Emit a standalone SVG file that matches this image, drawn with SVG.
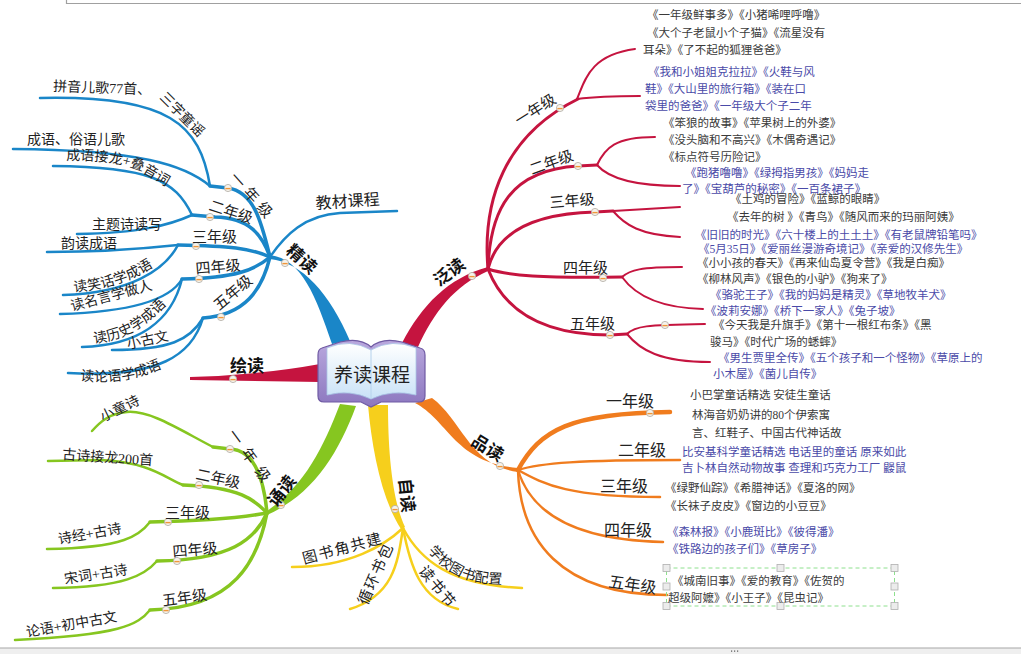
<svg xmlns="http://www.w3.org/2000/svg" width="1021" height="654" viewBox="0 0 1021 654">
<style>
.t{font-family:"Liberation Serif","Noto Sans CJK SC",serif;fill:#222}
.s14{font-size:14px}.s15{font-size:15px}.s16{font-size:16px}
.b{font-weight:bold;font-size:17px;fill:#111}
.g{font-size:11.5px;fill:#3a3a3a}.u{font-size:11.5px;fill:#4a4aa8}
.cb{stroke:#1a86c8;fill:none;stroke-linecap:round}
.cr{stroke:#c5143f;fill:none;stroke-linecap:round}
.cg{stroke:#86c620;fill:none;stroke-linecap:round}
.cy{stroke:#f6cf1c;fill:none;stroke-linecap:round}
.co{stroke:#f07c1e;fill:none;stroke-linecap:round}
.w35{stroke-width:3.5}.w3{stroke-width:3}.w25{stroke-width:2.5}.w2{stroke-width:2}
.hd{fill:#ececec;stroke:#b0b0b0;stroke-width:0.8}
</style>
<defs>
<g id="mk"><circle r="3.6" fill="#f6f3ec" stroke="#b0aba2" stroke-width="0.8"/><line x1="-2.6" y1="0.6" x2="2.6" y2="0.6" stroke="#f0963a" stroke-width="1.4"/></g>
<linearGradient id="pg" x1="0" y1="0" x2="0" y2="1"><stop offset="0" stop-color="#ffffff"/><stop offset="1" stop-color="#c9e2f7"/></linearGradient>
<linearGradient id="cv" x1="0" y1="0" x2="0" y2="1"><stop offset="0" stop-color="#b9a8de"/><stop offset="1" stop-color="#8c77bf"/></linearGradient>
<path id="tp2" d="M 66,160 C 100,160 120,163 137,169 L 184,197"/>
<path id="tp3" d="M 74,292 C 105,289 135,282 162,260"/>
<path id="tp5" d="M 94,343 C 120,341 145,330 174,296"/>
<path id="tp6" d="M 80,380 C 110,384 140,380 170,364"/>
<path id="tp7" d="M 428,551 C 440,566 458,580 485,583 L 530,586"/>
</defs>
<rect width="1021" height="654" fill="#fff"/>
<path d="M66.5,0 V3.5 H1021" stroke="#a0a0a0" stroke-width="1.2" fill="none"/>
<rect x="0" y="648" width="1021" height="6" fill="#efefef"/>
<line x1="0" y1="648" x2="1021" y2="648" stroke="#a8a8a8" stroke-width="1.2"/>
<rect x="731" y="650.5" width="1.2" height="1.2" fill="#555"/><rect x="734" y="650.5" width="1.2" height="1.2" fill="#555"/><rect x="737" y="650.5" width="1.2" height="1.2" fill="#555"/>

<g id="connectors">
<!-- blue 精读 -->
<path d="M 270,255 C 302,259 316,297 332,344 L 350,341 C 330,294 302,262 270,259 Z" fill="#1a86c8"/>
<path class="cb w35" d="M 270,257 C 262,225 255,192 228,188 L 210,186"/>
<path class="cb w35" d="M 270,257 C 262,235 250,218 215,217 L 192,215"/>
<path class="cb w35" d="M 270,257 C 250,248 230,246 178,245"/>
<path class="cb w35" d="M 270,257 C 255,270 235,278 182,279"/>
<path class="cb w35" d="M 270,257 C 262,290 245,315 203,318"/>
<path class="cb w25" d="M 270,257 C 285,235 305,215 340,213 L 397,211"/>
<path class="cb w25" d="M 210,186 C 200,125 170,95 40,98"/>
<path class="cb w25" d="M 210,186 C 185,165 140,150 13,149"/>
<path class="cb w25" d="M 192,215 C 175,180 150,167 53,166"/>
<path class="cb w25" d="M 192,215 C 170,225 140,233 77,234"/>
<path class="cb w25" d="M 178,245 C 150,248 100,252 47,252"/>
<path class="cb w25" d="M 178,245 C 165,270 130,293 63,295"/>
<path class="cb w25" d="M 182,279 C 170,300 130,312 60,314"/>
<path class="cb w25" d="M 182,279 C 172,320 140,345 82,347"/>
<path class="cb w25" d="M 203,318 C 190,340 170,350 112,350"/>
<path class="cb w25" d="M 203,318 C 192,355 160,378 68,373"/>
<!-- red 绘读 -->
<path d="M 190,377 Q 260,375 320,364 L 320,382 Q 260,381 190,380 Z" fill="#c5143f"/>
<!-- crimson 泛读 -->
<path d="M 402,343 C 422,305 448,278 488,267 L 488,271 C 454,286 434,312 418,347 Z" fill="#c5143f"/>
<path class="cr w3" d="M 488,269 C 482,200 505,135 578,99"/>
<path class="cr w3" d="M 488,269 C 490,210 510,170 578,166 L 597,165"/>
<path class="cr w3" d="M 488,269 C 495,240 520,214 595,212 L 613,211"/>
<path class="cr w3" d="M 488,269 C 510,276 540,278 622,277"/>
<path class="cr w3" d="M 488,269 C 500,300 530,335 610,335 L 627,334"/>
<path class="cr w2" d="M 577,99 C 585,80 590,55 635,49"/>
<path class="cr w2" d="M 577,99 C 600,96 620,96 640,96"/>
<path class="cr w2" d="M 597,165 C 605,148 615,137 655,137"/>
<path class="cr w2" d="M 597,165 C 610,180 640,186 680,186"/>
<path class="cr w2" d="M 613,211 L 680,207"/>
<path class="cr w2" d="M 613,211 C 625,225 640,235 680,237"/>
<path class="cr w2" d="M 622,277 C 630,270 640,267 682,267"/>
<path class="cr w2" d="M 622,277 C 635,295 660,308 703,309"/>
<path class="cr w2" d="M 627,334 C 635,326 645,325 705,324"/>
<path class="cr w2" d="M 627,334 C 640,350 660,362 710,362"/>
<!-- green 诵读 -->
<path d="M 340,404 C 323,448 305,485 267,511 L 267,515 C 312,495 338,455 356,406 Z" fill="#86c620"/>
<path class="cg w35" d="M 267,513 C 264,480 255,450 230,449 L 213,447"/>
<path class="cg w35" d="M 267,513 C 255,500 240,487 183,485"/>
<path class="cg w35" d="M 267,513 C 240,518 200,521 150,522"/>
<path class="cg w35" d="M 267,513 C 255,540 230,560 157,561"/>
<path class="cg w35" d="M 267,513 C 258,560 235,608 150,610"/>
<path class="cg w25" d="M 213,447 C 180,430 150,410 127,412 C 110,413 100,422 92,431"/>
<path class="cg w25" d="M 183,485 C 165,478 150,462 100,460 L 48,461"/>
<path class="cg w25" d="M 150,522 C 140,535 125,548 47,549"/>
<path class="cg w25" d="M 157,561 C 145,575 125,587 53,588"/>
<path class="cg w25" d="M 150,610 C 138,625 120,635 15,640"/>
<!-- yellow 自读 -->
<path d="M 368,405 C 372,450 382,500 401,529 L 405,527 C 392,500 388,450 388,405 Z" fill="#f6cf1c"/>
<path class="cy w25" d="M 403,528 C 385,545 350,567 292,567"/>
<path class="cy w25" d="M 403,528 C 398,560 395,595 350,609"/>
<path class="cy w25" d="M 403,528 C 410,565 420,600 458,609"/>
<path class="cy w25" d="M 403,528 C 420,560 450,585 522,588"/>
<!-- orange 品读 -->
<path d="M 415,403 C 448,420 455,463 518,468 L 518,472 C 470,466 462,420 432,398 Z" fill="#f07c1e"/>
<path class="co" stroke-width="4.5" d="M 518,470 C 540,430 570,413 670,412"/>
<path class="co w25" d="M 518,470 C 540,463 580,460 680,460"/>
<path class="co w25" d="M 518,470 C 545,485 570,497 660,497"/>
<path class="co w25" d="M 518,470 C 530,510 570,540 663,542"/>
<path class="co w25" d="M 518,470 C 520,540 560,595 667,595"/>
<!-- markers -->
<use href="#mk" x="285" y="263"/><use href="#mk" x="228" y="188"/><use href="#mk" x="210" y="217"/><use href="#mk" x="196" y="246"/><use href="#mk" x="199" y="279"/><use href="#mk" x="221" y="317"/>
<use href="#mk" x="233" y="379"/>
<use href="#mk" x="281" y="505"/><use href="#mk" x="230" y="449"/><use href="#mk" x="199" y="485"/><use href="#mk" x="168" y="522"/><use href="#mk" x="177" y="561"/><use href="#mk" x="166" y="610"/>
<use href="#mk" x="395" y="509"/>
<use href="#mk" x="500" y="466"/><use href="#mk" x="650" y="413"/>
<use href="#mk" x="472" y="276"/><use href="#mk" x="560" y="108"/><use href="#mk" x="578" y="166"/><use href="#mk" x="595" y="212"/><use href="#mk" x="603" y="278"/><use href="#mk" x="610" y="335"/><use href="#mk" x="665" y="325"/>
</g>

<g id="center">
<path d="M 322,348 L 340,342 Q 360,337 371,347 Q 382,337 402,342 L 420,348 Q 425,349 425,355 L 425,396 Q 425,402 419,402 L 381,402 L 371,407 L 361,402 L 324,402 Q 318,402 318,396 L 318,355 Q 318,349 322,348 Z" fill="url(#cv)" stroke="#6f5aa3" stroke-width="1.2"/>
<path d="M 327,348 Q 350,338 371,350 Q 392,338 416,348 L 416,395 Q 392,389 371,399 Q 350,389 327,395 Z" fill="url(#pg)" stroke="#a9c7e6" stroke-width="0.8"/>
<line x1="371" y1="350" x2="371" y2="399" stroke="#b6d2ec" stroke-width="1"/>
<text class="t" x="372" y="382" font-size="19" text-anchor="middle" fill="#111">养读课程</text>
</g>

<g id="n-jingdu"><text class="t b" transform="translate(285,252) rotate(42)">精读</text></g>
<g id="n-j1"><text class="t s15" letter-spacing="5" transform="translate(229,178) rotate(48)">一年级</text></g>
<g id="n-j1a"><text class="t s14" transform="translate(53,91) rotate(2)">拼音儿歌77首、</text>
<text class="t s14" transform="translate(159,98) rotate(45)">三字童谣</text></g>
<g id="n-j1b"><text class="t s14" x="27" y="144">成语、俗语儿歌</text></g>
<g id="n-j2"><text class="t s15" transform="translate(208,210) rotate(18)">二年级</text></g>
<g id="n-j2a"><text class="t s14"><textPath href="#tp2">成语接龙+叠音词</textPath></text></g>
<g id="n-j2b"><text class="t s14" x="92" y="229">主题诗读写</text></g>
<g id="n-j3"><text class="t s15" x="192" y="242">三年级</text></g>
<g id="n-j3a"><text class="t s14" x="61" y="248">韵读成语</text></g>
<g id="n-j3b"><text class="t s14"><textPath href="#tp3">读笑话学成语</textPath></text></g>
<g id="n-j4"><text class="t s15" transform="translate(196,274) rotate(-5)">四年级</text></g>
<g id="n-j4a"><text class="t s14" transform="translate(72,311) rotate(-15)">读名言学做人</text></g>
<g id="n-j4b"><text class="t s14"><textPath href="#tp5">读历史学成语</textPath></text></g>
<g id="n-j5"><text class="t s15" transform="translate(219,311) rotate(-40)">五年级</text></g>
<g id="n-j5a"><text class="t s14" transform="translate(128,349) rotate(-12)">小古文</text></g>
<g id="n-j5b"><text class="t s14"><textPath href="#tp6">读论语学成语</textPath></text></g>
<g id="n-jc"><text class="t s16" transform="translate(316,209) rotate(-4)">教材课程</text></g>

<g id="n-huidu"><text class="t b" x="230" y="372">绘读</text></g>

<g id="n-songdu"><text class="t b" transform="translate(276,508) rotate(-52)">诵读</text></g>
<g id="n-s1"><text class="t s15" letter-spacing="8" transform="translate(227,434) rotate(54)">一年级</text></g>
<g id="n-s1a"><text class="t s14" transform="translate(103,422) rotate(-26)">小童诗</text></g>
<g id="n-s2"><text class="t s15" transform="translate(195,479) rotate(12)">二年级</text></g>
<g id="n-s2a"><text class="t s14" transform="translate(62,459) rotate(4)">古诗接龙200首</text></g>
<g id="n-s3"><text class="t s15" x="165" y="518">三年级</text></g>
<g id="n-s3a"><text class="t s14" transform="translate(59,544) rotate(-10)">诗经+古诗</text></g>
<g id="n-s4"><text class="t s15" transform="translate(173,557) rotate(-5)">四年级</text></g>
<g id="n-s4a"><text class="t s14" transform="translate(65,584) rotate(-9)">宋词+古诗</text></g>
<g id="n-s5"><text class="t s15" transform="translate(163,606) rotate(-8)">五年级</text></g>
<g id="n-s5a"><text class="t s14" transform="translate(27,637) rotate(-10)">论语+初中古文</text></g>

<g id="n-zidu"><text class="t b" transform="translate(399,479) rotate(84)">自读</text></g>
<g id="n-z1"><text class="t s15" letter-spacing="1.5" transform="translate(304,564) rotate(-15)">图书角共建</text></g>
<g id="n-z2"><text class="t s15" letter-spacing="1.5" transform="translate(367,606) rotate(-66)">循环书包</text></g>
<g id="n-z3"><text class="t s15" letter-spacing="1.5" transform="translate(418,571) rotate(51)">读书节</text></g>
<g id="n-z4"><text class="t s14"><textPath href="#tp7">学校图书配置</textPath></text></g>

<g id="n-pindu"><text class="t b" transform="translate(470,444) rotate(32)">品读</text></g>
<g id="n-p1"><text class="t s16" x="606" y="407">一年级</text>
<text class="t g" x="690" y="399">小巴掌童话精选  安徒生童话</text>
<text class="t g" x="692" y="419">林海音奶奶讲的80个伊索寓</text>
<text class="t g" x="692" y="437">言、红鞋子、中国古代神话故</text></g>
<g id="n-p2"><text class="t s16" x="618" y="456">二年级</text>
<text class="t u" x="682" y="456">比安基科学童话精选  电话里的童话  原来如此</text>
<text class="t u" x="682" y="472">吉卜林自然动物故事  查理和巧克力工厂  鼹鼠</text></g>
<g id="n-p3"><text class="t s16" x="600" y="492">三年级</text>
<text class="t g" x="665" y="492">《绿野仙踪》《希腊神话》《夏洛的网》</text>
<text class="t g" x="665" y="510">《长袜子皮皮》《窗边的小豆豆》</text></g>
<g id="n-p4"><text class="t s16" x="604" y="536">四年级</text>
<text class="t u" x="667" y="536">《森林报》《小鹿斑比》《彼得潘》</text>
<text class="t u" x="667" y="553">《铁路边的孩子们》《草房子》</text></g>
<g id="n-p5"><text class="t s16" transform="translate(608,587) rotate(8)">五年级</text>
<rect x="666.5" y="568" width="228" height="38" fill="none" stroke="#8ee08e" stroke-width="1" stroke-dasharray="4,3"/>
<rect class="hd" x="663" y="564.5" width="7" height="7"/><rect class="hd" x="777" y="564.5" width="7" height="7"/><rect class="hd" x="891" y="564.5" width="7" height="7"/>
<rect class="hd" x="663" y="583" width="7" height="7"/><rect class="hd" x="891" y="583" width="7" height="7"/>
<rect class="hd" x="663" y="602.5" width="7" height="7"/><rect class="hd" x="777" y="602.5" width="7" height="7"/><rect class="hd" x="891" y="602.5" width="7" height="7"/>
<text class="t g" x="672" y="585">《城南旧事》《爱的教育》《佐贺的</text>
<text class="t g" x="668" y="602">超级阿嬷》《小王子》《昆虫记》</text></g>

<g id="n-fandu"><text class="t b" transform="translate(439,287) rotate(-36)">泛读</text></g>
<g id="n-f1"><text class="t s15" transform="translate(519,126) rotate(-32)">一年级</text>
<text class="t g" x="647" y="19">《一年级鲜事多》《小猪唏哩呼噜》</text>
<text class="t g" x="647" y="37">《大个子老鼠小个子猫》《流星没有</text>
<text class="t g" x="643" y="54">耳朵》《了不起的狐狸爸爸》</text>
<text class="t u" x="648" y="76">《我和小姐姐克拉拉》《火鞋与风</text>
<text class="t u" x="645" y="93">鞋》《大山里的旅行箱》《装在口</text>
<text class="t u" x="645" y="110">袋里的爸爸》《一年级大个子二年</text></g>
<g id="n-f2"><text class="t s15" transform="translate(532,175) rotate(-20)">二年级</text>
<text class="t g" x="663" y="127">《笨狼的故事》《苹果树上的外婆》</text>
<text class="t g" x="663" y="144">《没头脑和不高兴》《木偶奇遇记》</text>
<text class="t g" x="663" y="161">《标点符号历险记》</text>
<text class="t u" x="685" y="177">《跑猪噜噜》《绿拇指男孩》《妈妈走</text>
<text class="t u" x="682" y="193">了》《宝葫芦的秘密》《一百条裙子》</text></g>
<g id="n-f3"><text class="t s15" transform="translate(550,208) rotate(-5)">三年级</text>
<text class="t g" x="730" y="203">《土鸡的冒险》《蓝鲸的眼睛》</text>
<text class="t g" x="727" y="221">《去年的树 》《青鸟》《随风而来的玛丽阿姨》</text>
<text class="t u" x="695" y="239">《旧旧的时光》《六十楼上的土土土》《有老鼠牌铅笔吗》</text>
<text class="t u" x="698" y="253">《5月35日》《爱丽丝漫游奇境记》《亲爱的汉修先生》</text></g>
<g id="n-f4"><text class="t s15" x="563" y="273">四年级</text>
<text class="t g" x="697" y="267">《小小孩的春天》《再来仙岛夏令营》《我是白痴》</text>
<text class="t g" x="697" y="283">《柳林风声》《银色的小驴》《狗来了》</text>
<text class="t u" x="710" y="299">《骆驼王子》《我的妈妈是精灵》《草地牧羊犬》</text>
<text class="t u" x="705" y="315">《波莉安娜》《桥下一家人》《兔子坡》</text></g>
<g id="n-f5"><text class="t s15" x="570" y="329">五年级</text>
<text class="t g" x="713" y="329">《今天我是升旗手》《第十一根红布条》《黑</text>
<text class="t g" x="710" y="346">骏马》《时代广场的蟋蟀》</text>
<text class="t u" x="718" y="362">《男生贾里全传》《五个孩子和一个怪物》《草原上的</text>
<text class="t u" x="713" y="378">小木屋》《菌儿自传》</text></g>
</svg>
